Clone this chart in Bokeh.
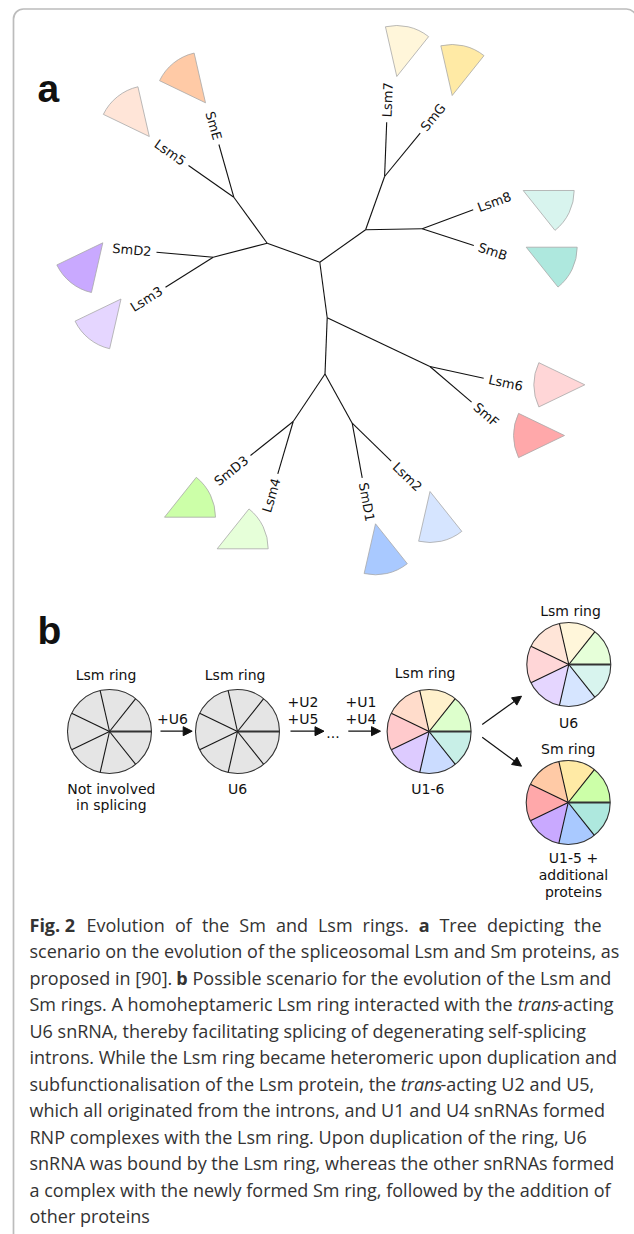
import math
from bokeh.plotting import figure
from bokeh.models import Range1d, BoxAnnotation, Arrow, NormalHead, ColumnDataSource
from bokeh.core.properties import value
from bokeh.embed import file_html
from bokeh.resources import INLINE

# ---------------- panel a: unrooted tree of Sm / Lsm proteins ----------------
node_names = ["A", "B", "C", "D", "E", "F", "G", "H", "I", "J", "K", "L"]
node_x = [266.7, 319.3, 326.7, 324.5, 212.7, 233.3, 365.1, 421.7, 384.1, 429.4, 292.7, 351.7]
node_y = [242.7, 261.7, 317.3, 373.5, 256.7, 196.7, 229.3, 228.3, 176.0, 366.0, 421.0, 422.7]
edge_from = ["A", "A", "A", "B", "B", "G", "G", "C", "C", "D", "D"]
edge_to = ["B", "E", "F", "G", "C", "H", "I", "J", "D", "K", "L"]

leaf_names = ["SmD2", "Lsm3", "Lsm5", "SmE", "Lsm7", "SmG", "Lsm8", "SmB",
              "Lsm6", "SmF", "SmD3", "Lsm4", "SmD1", "Lsm2"]
leaf_parent = ["E", "E", "F", "F", "I", "I", "H", "H", "J", "J", "K", "K", "L", "L"]
leaf_x = [156.0, 165.0, 188.0, 218.4, 386.2, 419.7, 472.7, 473.3,
          483.2, 471.1, 250.0, 277.3, 361.7, 390.7]
leaf_y = [251.7, 286.7, 165.0, 144.0, 121.7, 132.7, 209.3, 245.0,
          377.7, 401.7, 455.0, 473.3, 477.3, 460.7]
# position of each subunit in the heptameric ring (0 = first sector, counter-clockwise)
leaf_slot = [4, 4, 2, 2, 1, 1, 6, 6, 3, 3, 0, 0, 5, 5]
wedge_x = [102.3, 120.5, 148.8, 205.0, 396.3, 451.7, 522.7, 525.7,
           584.3, 564.0, 164.0, 216.7, 375.0, 429.5]
wedge_y = [242.3, 298.5, 136.0, 102.3, 76.0, 95.0, 190.0, 246.7,
           384.3, 435.0, 516.7, 548.3, 523.3, 491.0]

# ring sector colours, by slot: green, yellow, peach, pink, purple, blue, teal
lsm_colors = ["#e6ffd9", "#fff6da", "#ffe5d8", "#ffd6d7", "#e5d6ff", "#d6e5ff", "#d8f4ee"]
sm_colors = ["#ccffa8", "#ffeaa5", "#ffcaa6", "#ffa8aa", "#c9a9ff", "#a9c9ff", "#aee8de"]
mid_colors = ["#ddffcc", "#fff1cc", "#ffdccb", "#ffcacc", "#ddcbff", "#cbdcff", "#c8efe7"]
gray_colors = ["#e5e5e5"] * 7

# ---------------- panel b: ring evolution ----------------
ring_x = [109.0, 237.0, 428.6, 568.3, 567.7]
ring_y = [731.0, 731.0, 731.0, 664.0, 802.0]
ring_palettes = [gray_colors, gray_colors, mid_colors, lsm_colors, sm_colors]
ring_title = ["Lsm ring", "Lsm ring", "Lsm ring", "Lsm ring", "Sm ring"]
ring_title_x = [105.5, 234.6, 424.6, 570.0, 567.7]
ring_title_y = [679.0, 679.0, 677.3, 615.0, 753.3]          # baselines
ring_note = ["Not involved", "in splicing", "U6", "U1-6", "U6", "U1-5 +", "additional", "proteins"]
ring_note_x = [110.8, 110.8, 237.0, 427.4, 568.0, 573.0, 573.0, 573.0]
ring_note_y = [792.7, 809.5, 792.7, 792.7, 727.3, 861.7, 879.0, 896.3]

step_text = ["+U6", "+U2", "+U5", "+U1", "+U4", "..."]
step_x = [172.0, 302.5, 302.5, 360.5, 360.5, 332.5]
step_y = [722.7, 706.0, 723.5, 706.0, 723.5, 737.0]

arrow_x0 = [160.0, 290.0, 347.8, 481.7, 481.7]
arrow_y0 = [730.7, 730.7, 730.7, 724.0, 736.7]
arrow_x1 = [191.7, 323.5, 380.0, 521.0, 521.0]
arrow_y1 = [730.7, 730.7, 730.7, 695.7, 765.7]

# ---------------- caption ----------------
line1_words = ["Fig. 2", "Evolution", "of", "the", "Sm", "and", "Lsm", "rings.",
               "a", "Tree", "depicting", "the"]
line1_style = ["bold", "normal", "normal", "normal", "normal", "normal", "normal",
               "normal", "bold", "normal", "normal", "normal"]
caption_rest = [
    [("scenario on the evolution of the spliceosomal Lsm and Sm proteins, as", "normal")],
    [("proposed in [90]. ", "normal"), ("b ", "bold"),
     ("Possible scenario for the evolution of the Lsm and", "normal")],
    [("Sm rings. A homoheptameric Lsm ring interacted with the ", "normal"),
     ("trans", "italic"), ("-acting", "normal")],
    [("U6 snRNA, thereby facilitating splicing of degenerating self-splicing", "normal")],
    [("introns. While the Lsm ring became heteromeric upon duplication and", "normal")],
    [("subfunctionalisation of the Lsm protein, the ", "normal"),
     ("trans", "italic"), ("-acting U2 and U5,", "normal")],
    [("which all originated from the introns, and U1 and U4 snRNAs formed", "normal")],
    [("RNP complexes with the Lsm ring. Upon duplication of the ring, U6", "normal")],
    [("snRNA was bound by the Lsm ring, whereas the other snRNAs formed", "normal")],
    [("a complex with the newly formed Sm ring, followed by the addition of", "normal")],
    [("other proteins", "normal")],
]

# ---------------- layout helpers ----------------
CAP_X0, CAP_Y0, CAP_DY, CAP_FS = 29.0, 930.6, 26.5, 18.0
LINE1_END = 601.0
# approximate advance widths (em) of the caption font, used to chain styled runs
ADV = {" ": .26, ".": .266, ",": .245, "-": .322, "[": .303, "]": .303,
       "A": .633, "L": .524, "S": .549, "T": .557, "P": .625, "U": .728, "R": .634, "N": .76,
       "a": .556, "b": .613, "c": .476, "d": .613, "e": .561, "f": .339, "g": .548,
       "h": .614, "i": .253, "l": .253, "m": .93, "n": .614, "o": .604, "p": .613,
       "r": .408, "s": .477, "t": .353, "u": .614, "v": .501, "w": .778, "y": .502}
ADV_BOLD = {" ": .26, ".": .29, "F": .61, "i": .31, "g": .57, "2": .572, "a": .6, "b": .64}
ADV_ITAL = {"t": .32, "r": .40, "a": .55, "n": .55, "s": .38}


def run_width(t, style):
    tab = {"normal": ADV, "bold": ADV_BOLD, "italic": ADV_ITAL}[style]
    return sum(tab.get(ch, .572) for ch in t) * CAP_FS


W, H = 634, 1234
p = figure(width=W, height=H, output_backend="svg", toolbar_location=None,
           x_range=Range1d(0, W), y_range=Range1d(-H, 0),
           x_axis_location=None, y_axis_location=None,
           min_border=0, min_border_left=0, min_border_right=0,
           min_border_top=0, min_border_bottom=0,
           outline_line_color=None, background_fill_color="white",
           border_fill_color="white")
p.xgrid.visible = False
p.ygrid.visible = False


def neg(a):
    return [-v for v in a]


def mid(baselines, size, k=0.33):
    # anchor for a 'middle'-aligned text whose baseline is given
    return [-(b - k * size) for b in baselines]


# frame (its right side runs just past the page edge)
p.add_layout(BoxAnnotation(left=13, right=636, top=-8.5, bottom=-1300,
                           fill_color=None, fill_alpha=0, line_color="#222222",
                           line_width=1.7, border_radius=10))

# panel letters
p.text(x=[37, 37], y=mid([101.5, 644.0], 39, 0.35), text=["a", "b"],
       text_font=value("Liberation Sans"), text_font_style="bold",
       text_font_size="39px", text_color="#111111",
       text_align="left", text_baseline="middle")

# tree branches
pos = dict(zip(node_names, zip(node_x, node_y)))
for n, x, y in zip(leaf_names, leaf_x, leaf_y):
    pos[n] = (x, y)
seg_from = edge_from + leaf_parent
seg_to = edge_to + leaf_names
p.segment(x0=[pos[a][0] for a in seg_from], y0=[-pos[a][1] for a in seg_from],
          x1=[pos[b][0] for b in seg_to], y1=[-pos[b][1] for b in seg_to],
          line_color="#111111", line_width=1.1)

# leaf wedges
STEP = 360.0 / 7
leaf_colors = [(sm_colors if n.startswith("Sm") else lsm_colors)[s]
               for n, s in zip(leaf_names, leaf_slot)]
p.wedge(x=wedge_x, y=neg(wedge_y), radius=51,
        start_angle=[s * STEP for s in leaf_slot],
        end_angle=[(s + 1) * STEP for s in leaf_slot],
        start_angle_units="deg", end_angle_units="deg",
        fill_color=leaf_colors, line_color="#a8a8a8", line_width=0.8)

# leaf labels, oriented along the branch
GAP = 5.0
lab = {"left": dict(x=[], y=[], t=[], a=[]), "right": dict(x=[], y=[], t=[], a=[])}
for n, par, x, y in zip(leaf_names, leaf_parent, leaf_x, leaf_y):
    px, py = pos[par]
    dx, dy = x - px, y - py
    L = math.hypot(dx, dy)
    ux, uy = dx / L, dy / L
    ang = math.degrees(math.atan2(-dy, dx)) % 360
    ax, ay = x + ux * GAP, y + uy * GAP
    if 90 < ang < 270:
        side, ang = "right", ang - 180
    else:
        side = "left"
    lab[side]["x"].append(ax)
    lab[side]["y"].append(-ay)
    lab[side]["t"].append(n)
    lab[side]["a"].append(ang)
for side, d in lab.items():
    p.text(x=d["x"], y=d["y"], text=d["t"], angle=d["a"], angle_units="deg",
           text_font=value("DejaVu Sans"), text_font_size="13px",
           text_color="#111111", text_align=side, text_baseline="middle")

# rings of panel b
R = 42.0
for cx, cy, pal in zip(ring_x, ring_y, ring_palettes):
    p.wedge(x=[cx] * 7, y=[-cy] * 7, radius=R,
            start_angle=[i * STEP for i in range(7)],
            end_angle=[(i + 1) * STEP for i in range(7)],
            start_angle_units="deg", end_angle_units="deg",
            fill_color=pal, line_color=None)
p.ray(x=[cx for cx in ring_x for _ in range(1, 7)],
      y=[-cy for cy in ring_y for _ in range(1, 7)],
      length=R, angle=[i * STEP for _ in ring_x for i in range(1, 7)],
      angle_units="deg", line_color="#151515", line_width=1.1)
p.ray(x=ring_x, y=neg(ring_y), length=R, angle=0, line_color="#333333", line_width=2.2)
p.circle(x=ring_x, y=neg(ring_y), radius=R, fill_color=None,
         line_color="#333333", line_width=1.1)

TXT = dict(text_font=value("DejaVu Sans"), text_font_size="14px", text_color="#111111",
           text_align="center", text_baseline="middle")
p.text(x=ring_title_x, y=mid(ring_title_y, 14), text=ring_title, **TXT)
p.text(x=ring_note_x, y=mid(ring_note_y, 14), text=ring_note, **TXT)
p.text(x=step_x, y=mid(step_y, 14), text=step_text, **TXT)

arrow_src = ColumnDataSource(dict(x0=arrow_x0, y0=neg(arrow_y0), x1=arrow_x1, y1=neg(arrow_y1)))
p.add_layout(Arrow(end=NormalHead(size=9, fill_color="#111111", line_color="#111111"),
                   x_start="x0", y_start="y0", x_end="x1", y_end="y1",
                   source=arrow_src, line_color="#111111", line_width=1.2))

# caption
styles = {"normal": ([], [], []), "bold": ([], [], []), "italic": ([], [], [])}
# first line is justified: spread the gaps so that it ends at LINE1_END
widths = [run_width(w, s) for w, s in zip(line1_words, line1_style)]
gap = (LINE1_END - CAP_X0 - sum(widths)) / (len(line1_words) - 1)
x = CAP_X0
for w, s, wd in zip(line1_words, line1_style, widths):
    styles[s][0].append(x)
    styles[s][1].append(CAP_Y0)
    styles[s][2].append(w)
    x += wd + gap
for i, segs in enumerate(caption_rest, start=1):
    x = CAP_X0
    for t, s in segs:
        styles[s][0].append(x)
        styles[s][1].append(CAP_Y0 + i * CAP_DY)
        styles[s][2].append(t)
        x += run_width(t, s)
for s, (xs, ys, ts) in styles.items():
    p.text(x=xs, y=mid(ys, CAP_FS, 0.36), text=ts, text_font=value("Open Sans"),
           text_font_style=s, text_font_size="18px", text_color="#333333",
           text_align="left", text_baseline="middle")

open("out.html", "w").write(file_html(p, INLINE))
